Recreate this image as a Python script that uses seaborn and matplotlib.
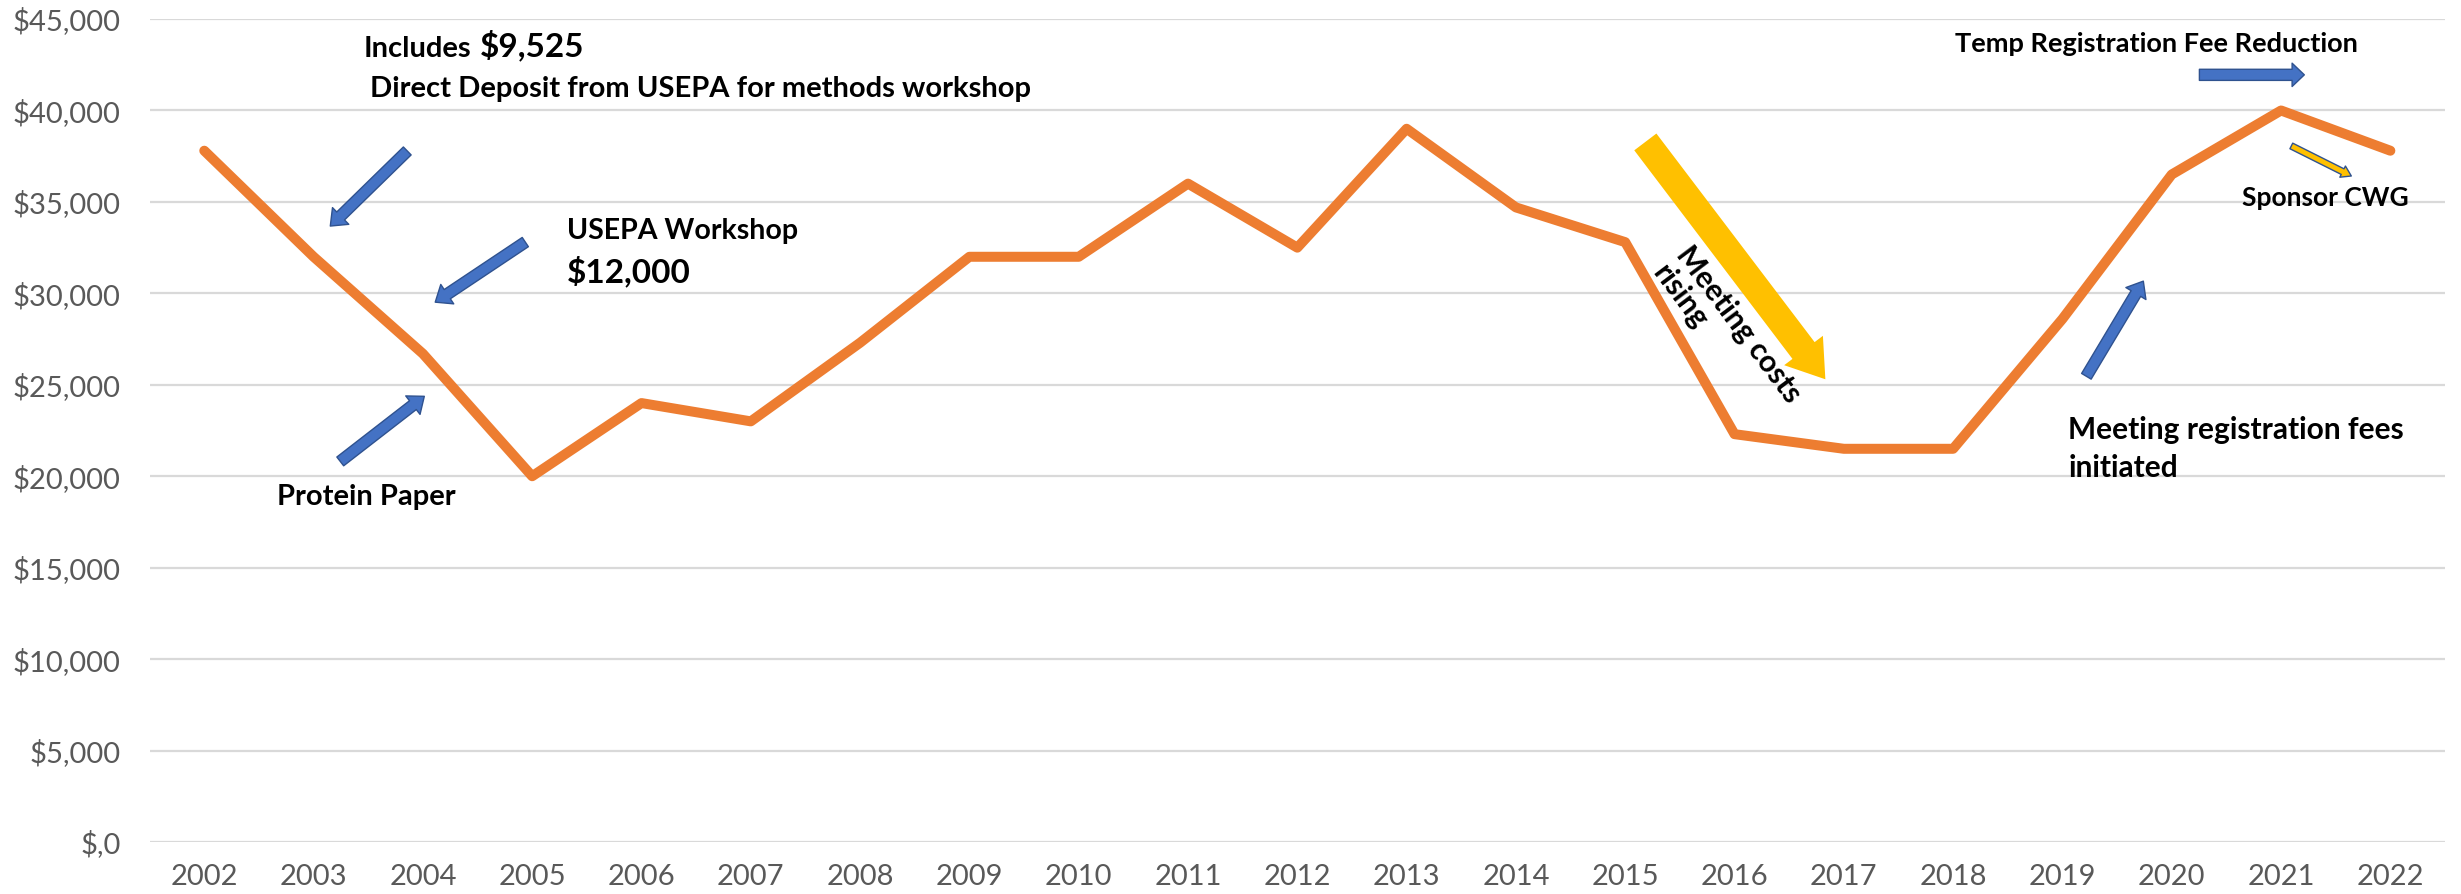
import matplotlib
matplotlib.use("Agg")
import matplotlib.pyplot as plt
import seaborn as sns
import pandas as pd

# values
years = list(range(2002, 2023))
balance = [37800, 32000, 26700, 20000, 24000, 23000, 27300, 32000, 32000, 36000,
           32500, 39000, 34700, 32800, 22300, 21500, 21500, 28600, 36500, 40000, 37800]
y_ticks = [0, 5000, 10000, 15000, 20000, 25000, 30000, 35000, 40000, 45000]
y_tick_labels = ["$,0", "$5,000", "$10,000", "$15,000", "$20,000",
                 "$25,000", "$30,000", "$35,000", "$40,000", "$45,000"]

ORANGE = "#ED7D31"
BLUE = "#4472C4"
BLUE_EDGE = "#2F528F"
YELLOW = "#FFC000"
GREY = "#595959"

sns.set_theme(style="white")
plt.rcParams["font.family"] = ["Lato", "DejaVu Sans"]
plt.rcParams["text.parse_math"] = False

fig = plt.figure(figsize=(24.61, 8.94), dpi=100)
ax = fig.add_axes([0.0608, 0.0582, 0.9327, 0.9205])

df = pd.DataFrame({"Year": years, "Balance": balance})
sns.lineplot(data=df, x="Year", y="Balance", ax=ax, color=ORANGE, linewidth=7.2,
             solid_capstyle="round", solid_joinstyle="round", zorder=3)

ax.set_xlim(2001.5, 2022.5)
ax.set_ylim(0, 45000)
ax.set_xticks(years)
ax.set_xticklabels([str(y) for y in years])
ax.set_yticks(y_ticks)
ax.set_yticklabels(y_tick_labels)
ax.set_xlabel("")
ax.set_ylabel("")
ax.yaxis.grid(True, color="#D9D9D9", linewidth=1.6, zorder=0)
ax.xaxis.grid(False)
for s in ax.spines.values():
    s.set_visible(False)
ax.tick_params(axis="y", length=0, pad=21, labelsize=21, labelcolor=GREY)
ax.tick_params(axis="x", length=0, pad=16, labelsize=21, labelcolor=GREY)

bold = dict(fontweight="bold", color="black", va="baseline", ha="left")

# annotations, top left
ax.text(2003.455, 42936, "Includes", fontsize=21, **bold)
ax.text(2004.525, 42936, "$9,525", fontsize=24, **bold)
ax.text(2003.519, 40745, "Direct Deposit from USEPA for methods workshop", fontsize=21, **bold)
ax.text(2005.321, 32966, "USEPA Workshop", fontsize=20.5, **bold)
ax.text(2005.321, 30611, "$12,000", fontsize=24, **bold)
ax.text(2002.668, 18400, "Protein Paper", fontsize=21, **bold)

# annotations, right side
ax.text(2019.054, 22014, "Meeting registration fees", fontsize=21.5, **bold)
ax.text(2019.054, 19933, "initiated", fontsize=21.5, **bold)
ax.text(2018.02, 43207, "Temp Registration Fee Reduction", fontsize=19.5, **bold)
ax.text(2020.646, 34775, "Sponsor CWG", fontsize=19, **bold)
ax.text(2015.93, 27800, "Meeting costs\nrising", fontsize=21.5, fontweight="bold",
        color="black", rotation=-53, rotation_mode="anchor", ha="center", va="center",
        multialignment="left", linespacing=1.1, zorder=5)


def block_arrow(tail, tip, fc, ec, scale, tw, hw, hl, lw=1.0, z=4):
    ax.annotate("", xy=tip, xytext=tail,
                arrowprops=dict(arrowstyle=f"simple,head_length={hl},head_width={hw},tail_width={tw}",
                                fc=fc, ec=ec, lw=lw, mutation_scale=scale,
                                shrinkA=0, shrinkB=0),
                zorder=z)


block_arrow((2003.857, 37787), (2003.153, 33680), BLUE, BLUE_EDGE, 8, 1.0, 2.1, 1.3)
block_arrow((2004.937, 32804), (2004.113, 29518), BLUE, BLUE_EDGE, 8, 1.0, 2.1, 1.3)
block_arrow((2003.244, 20810), (2004.013, 24370), BLUE, BLUE_EDGE, 8, 1.0, 2.1, 1.3)
block_arrow((2019.219, 25465), (2019.740, 30668), BLUE, BLUE_EDGE, 8, 1.0, 2.1, 1.3)
block_arrow((2020.253, 41949), (2021.213, 41949), BLUE, BLUE_EDGE, 8, 1.0, 2.1, 1.1)
block_arrow((2015.184, 38280), (2016.831, 25301), YELLOW, YELLOW, 20, 1.0, 1.75, 1.3, lw=0, z=2)
block_arrow((2021.094, 38061), (2021.643, 36418), YELLOW, BLUE_EDGE, 5, 0.9, 1.8, 1.4)

fig.savefig("out.png", dpi=100)
